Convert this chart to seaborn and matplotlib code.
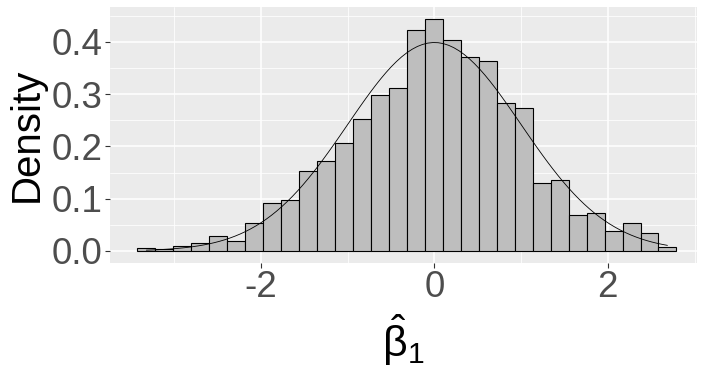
import numpy as np
import pandas as pd
import matplotlib
matplotlib.use("Agg")
import matplotlib.pyplot as plt
from matplotlib.ticker import FixedLocator
import seaborn as sns

# Histogram bins (30 bins) and density heights
bin_left = -3.425
bin_width = 0.2072
densities = [0.0051, 0.0032, 0.0089, 0.0146, 0.028, 0.019, 0.0535, 0.0917,
             0.0968, 0.154, 0.173, 0.2076, 0.252, 0.299, 0.3127, 0.4236,
             0.4446, 0.4045, 0.372, 0.3627, 0.284, 0.2745, 0.1293, 0.135,
             0.068, 0.072, 0.0376, 0.0529, 0.0338, 0.0083]
# range of the data (for the reference normal curve, as in stat_function)
data_min, data_max = -3.321, 2.687
x_ticks = [-2, 0, 2]
x_tick_labels = ["-2", "0", "2"]
y_ticks = [0.0, 0.1, 0.2, 0.3, 0.4]
y_tick_labels = ["0.0", "0.1", "0.2", "0.3", "0.4"]

n_bins = len(densities)
edges = bin_left + bin_width * np.arange(n_bins + 1)
centers = (edges[:-1] + edges[1:]) / 2
hist_df = pd.DataFrame({"x": centers, "w": densities})

grid = np.linspace(data_min, data_max, 101)
curve_df = pd.DataFrame({"x": grid, "y": np.exp(-grid ** 2 / 2) / np.sqrt(2 * np.pi)})

sns.set_theme(style="darkgrid")
plt.rcParams["font.family"] = ["Liberation Sans", "DejaVu Sans"]
plt.rcParams["mathtext.fontset"] = "custom"
plt.rcParams["mathtext.rm"] = "Liberation Sans"
plt.rcParams["mathtext.it"] = "Liberation Sans"

fig = plt.figure(figsize=(7.11, 3.84), dpi=100)
ax = fig.add_axes([110 / 711, 1 - 262.6 / 384, (697 - 110) / 711, (262.6 - 7) / 384])
ax.set_facecolor("#EBEBEB")

sns.histplot(data=hist_df, x="x", weights="w", bins=n_bins,
             binrange=(float(edges[0]), float(edges[-1])), stat="count",
             color="#BEBEBE", edgecolor="black", linewidth=0.8, alpha=1,
             ax=ax)
sns.lineplot(data=curve_df, x="x", y="y", color="black", linewidth=0.6, ax=ax)

ax.set_xlim(-3.74, 3.028)
ax.set_ylim(-0.0222, 0.4669)

ax.xaxis.set_major_locator(FixedLocator(x_ticks))
ax.set_xticklabels(x_tick_labels)
ax.yaxis.set_major_locator(FixedLocator(y_ticks))
ax.set_yticklabels(y_tick_labels)
ax.xaxis.set_minor_locator(FixedLocator([-3, -1, 1, 3]))
ax.yaxis.set_minor_locator(FixedLocator([0.05, 0.15, 0.25, 0.35, 0.45]))

ax.grid(which="major", color="white", linewidth=1.1)
ax.grid(which="minor", color="white", linewidth=0.55)
ax.set_axisbelow(True)
for s in ax.spines.values():
    s.set_visible(False)

ax.tick_params(axis="both", which="major", length=3.5, width=0.8, color="#333333",
               labelsize=26.5, labelcolor="#4D4D4D", pad=2, bottom=True, left=True)
ax.tick_params(axis="both", which="minor", length=0)

ax.set_xlabel(r"$\hat{\beta}_1$", fontsize=31, color="black", labelpad=5)
ax.set_ylabel("Density", fontsize=29, color="black", labelpad=4)

fig.savefig("out.png", dpi=100)
